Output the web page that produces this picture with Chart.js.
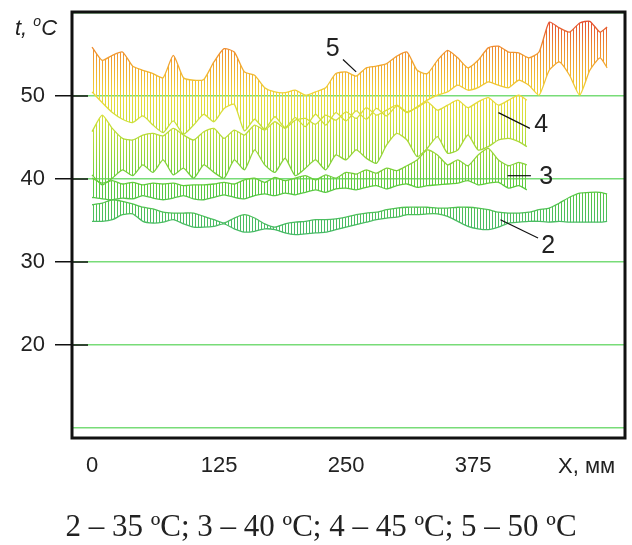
<!DOCTYPE html>
<html>
<head>
<meta charset="utf-8">
<script src="https://cdn.jsdelivr.net/npm/chart.js@4.4.0/dist/chart.umd.min.js"></script>
<style>
  body { margin: 0; background: #fff; }
  #wrap { position: relative; width: 632px; height: 545px; }
  .txt { position: absolute; color: #222; font-family: 'Liberation Sans', Arial, sans-serif; white-space: nowrap; }
</style>
</head>
<body>
<div id="wrap">
  <canvas id="chart" width="632" height="545"></canvas>
  <div class="txt" style="left:15px;top:13px;font-size:22px;font-style:italic">t, <sup style="font-size:14px;vertical-align:9px">o</sup>C</div>
  <div class="txt" style="left:558px;top:453px;font-size:22px">X, мм</div>
  <div class="txt" style="left:0;width:642px;top:508px;text-align:center;font-family:'Liberation Serif',serif;font-size:31px">2 – 35 ºC; 3 – 40 ºC; 4 – 45 ºC; 5 – 50 ºC</div>
</div>
<script>
// Положение по длине, мм
const X_LONG = [0, 10, 20, 30, 40, 50, 60, 70, 80, 90, 100, 110, 120, 130, 140, 150, 160, 170, 180, 190,
  200, 210, 220, 230, 240, 250, 260, 270, 280, 290, 300, 310, 320, 330, 340, 350, 360, 370, 380, 390,
  400, 410, 420, 430, 440, 450, 460, 470, 480, 490, 500, 507];
const X_SHORT = [0, 10, 20, 30, 40, 50, 60, 70, 80, 90, 100, 110, 120, 130, 140, 150, 160, 170, 180, 190,
  200, 210, 220, 230, 240, 250, 260, 270, 280, 290, 300, 310, 320, 330, 340, 350, 360, 370, 380, 390,
  400, 410, 420, 428];

// 2 - 35 °C
const S2_UPPER = [36.9, 37.1, 37.5, 37.3, 37.0, 36.6, 36.4, 36.0, 35.9, 35.9, 35.9, 35.5, 35.1, 34.7, 35.3, 35.7,
  35.3, 34.6, 34.2, 34.6, 34.8, 34.9, 35.1, 35.1, 35.2, 35.4, 35.7, 35.9, 36.0, 36.3, 36.5, 36.6, 36.6, 36.6,
  36.5, 36.5, 36.6, 36.6, 36.5, 36.3, 36.0, 35.9, 35.9, 36.0, 36.3, 36.5, 37.1, 37.8, 38.3, 38.4, 38.4, 38.2];
const S2_LOWER = [34.9, 34.9, 35.1, 35.7, 35.8, 34.9, 34.7, 34.8, 35.1, 34.6, 34.2, 34.2, 34.3, 34.6, 34.0, 33.6,
  33.7, 34.0, 33.9, 33.5, 33.3, 33.4, 33.5, 33.6, 33.9, 34.2, 34.5, 34.8, 35.1, 35.3, 35.4, 35.7, 35.7, 35.8,
  35.8, 35.5, 34.9, 34.3, 34.0, 33.9, 34.2, 34.7, 34.8, 34.9, 34.9, 34.8, 34.9, 34.8, 34.8, 34.8, 34.8, 34.9];

// 3 - 40 °C
const S3_UPPER = [40.1, 39.5, 39.8, 39.4, 39.6, 39.3, 39.5, 39.4, 39.5, 39.2, 39.3, 39.3, 39.4, 39.6, 39.4, 39.9,
  40.1, 39.6, 40.2, 39.8, 40.1, 40.4, 39.9, 40.5, 40.1, 40.8, 40.6, 41.1, 40.7, 41.3, 41.0, 41.6, 42.3, 43.5,
  42.9, 41.7, 42.3, 41.6, 42.9, 43.7, 42.3, 41.6, 42.0, 41.7];
const S3_LOWER = [37.8, 37.6, 37.5, 37.7, 37.6, 38.0, 37.7, 37.5, 37.7, 38.0, 37.6, 37.5, 37.8, 38.1, 37.8, 37.6,
  38.0, 38.2, 38.0, 38.3, 38.1, 38.4, 38.7, 38.4, 38.8, 38.9, 38.7, 39.0, 39.2, 38.8, 39.2, 39.4, 39.0, 39.2,
  39.3, 39.4, 39.5, 39.8, 39.3, 39.5, 39.6, 38.9, 39.2, 38.7];

// 4 - 45 °C
const S4_UPPER = [45.7, 47.7, 46.1, 44.9, 44.7, 45.3, 45.5, 45.2, 46.1, 45.3, 44.7, 45.7, 46.1, 44.9, 45.9, 45.3,
  46.5, 45.9, 46.9, 46.1, 47.1, 47.3, 46.6, 47.7, 47.1, 48.1, 47.3, 48.6, 47.7, 48.3, 48.9, 48.1, 48.6, 49.3,
  48.3, 48.9, 49.5, 48.6, 49.3, 49.8, 48.9, 49.5, 50.1, 49.5];
const S4_LOWER = [40.5, 39.3, 40.1, 41.1, 40.4, 41.7, 40.8, 42.3, 40.5, 41.3, 40.1, 41.7, 40.8, 40.1, 42.3, 41.1,
  43.5, 41.7, 40.8, 42.5, 40.4, 41.3, 42.3, 41.1, 42.9, 42.3, 43.5, 42.5, 41.9, 44.1, 45.5, 44.7, 42.7, 43.7,
  45.1, 43.1, 43.5, 45.3, 43.5, 43.9, 44.7, 44.9, 44.5, 43.9];

// 5 - 50 °C
const S5_UPPER = [55.9, 54.3, 54.9, 55.3, 53.6, 53.1, 52.7, 52.2, 54.9, 52.2, 51.9, 52.0, 54.1, 55.7, 55.3, 52.9,
  52.5, 51.0, 50.5, 50.4, 50.7, 50.1, 50.5, 51.0, 52.7, 52.9, 52.4, 53.4, 53.6, 53.9, 54.8, 55.3, 53.1, 52.7,
  54.3, 55.5, 54.6, 53.4, 54.3, 55.8, 56.0, 55.3, 55.2, 54.6, 55.3, 58.9, 58.2, 57.7, 58.8, 59.0, 57.7, 58.3];
const S5_LOWER = [50.5, 49.2, 48.0, 47.2, 46.8, 47.6, 46.5, 45.6, 47.0, 45.4, 46.5, 47.8, 46.9, 48.5, 49.0, 45.8,
  47.2, 46.0, 47.5, 46.2, 47.4, 46.3, 47.8, 46.5, 48.0, 47.0, 48.2, 47.2, 48.5, 47.6, 48.8, 48.0, 48.7, 49.5,
  50.1, 50.5, 51.3, 50.7, 51.0, 51.7, 51.3, 51.0, 51.9, 51.3, 50.1, 53.1, 54.1, 52.5, 50.1, 53.1, 54.6, 53.4];

const Y_TICK_LABELS = [20, 30, 40, 50];
const X_TICK_LABELS = [0, 125, 250, 375];

// Цвет по температуре (значение -> цвет)
const COLOR_STOPS = [
  [30, '61,181,111'], [35, '75,189,98'], [39, '91,203,62'], [43, '152,214,58'], [47, '207,224,58'],
  [50, '238,216,58'], [53, '242,178,50'], [56, '239,138,48'], [59.5, '227,70,50']
];

// Подписи кривых (в координатах данных)
const CALLOUTS = [
  { text: '5', at: [237, 55.6], from: [247, 54.4], to: [260, 52.9] },
  { text: '4', at: [442, 46.5], from: [431, 46.1], to: [400, 48.0] },
  { text: '3', at: [447, 40.2], from: [432, 40.4], to: [409, 40.4] },
  { text: '2', at: [449, 31.9], from: [439, 32.9], to: [402, 35.1] }
];

const FONT = "'Liberation Sans', Arial, sans-serif";

function points(xs, ys) {
  return xs.map((x, i) => ({ x: x, y: ys[i] }));
}

function tempGradient(ctx, yScale, alpha) {
  const v0 = COLOR_STOPS[0][0];
  const v1 = COLOR_STOPS[COLOR_STOPS.length - 1][0];
  const g = ctx.createLinearGradient(0, yScale.getPixelForValue(v0), 0, yScale.getPixelForValue(v1));
  COLOR_STOPS.forEach(s => g.addColorStop((s[0] - v0) / (v1 - v0), 'rgba(' + s[1] + ',' + alpha + ')'));
  return g;
}

let hatchCache = null;
function hatchFill(context) {
  const chart = context.chart;
  if (!chart.chartArea) return 'rgba(0,0,0,0)';
  const key = chart.height + ':' + chart.chartArea.top + ':' + chart.chartArea.bottom;
  if (hatchCache && hatchCache.key === key) return hatchCache.pattern;
  const c = document.createElement('canvas');
  c.width = 3;
  c.height = chart.height;
  const g = c.getContext('2d');
  g.fillStyle = tempGradient(g, chart.scales.y, 1);
  g.fillRect(0, 0, 1, chart.height);
  hatchCache = { key: key, pattern: chart.ctx.createPattern(c, 'repeat') };
  return hatchCache.pattern;
}

function edgeColor(context) {
  const chart = context.chart;
  if (!chart.chartArea) return '#5c5';
  return tempGradient(chart.ctx, chart.scales.y, 1);
}

function band(xs, lower, upper) {
  const common = { borderColor: edgeColor, borderWidth: 1.3, pointRadius: 0, tension: 0.2 };
  return [
    Object.assign({ data: points(xs, lower), fill: false }, common),
    Object.assign({ data: points(xs, upper), fill: '-1', backgroundColor: hatchFill }, common)
  ];
}

function noPad(s) {
  s.paddingTop = 0;
  s.paddingBottom = 0;
  s.paddingLeft = 0;
  s.paddingRight = 0;
}

const frame = {
  id: 'frame',
  afterDraw(chart) {
    const { ctx, chartArea: a, scales } = chart;
    ctx.save();
    // внутренние части рисок
    ctx.strokeStyle = '#111';
    ctx.lineWidth = 1.5;
    Y_TICK_LABELS.forEach(v => {
      const y = scales.y.getPixelForValue(v);
      ctx.beginPath();
      ctx.moveTo(a.left, y);
      ctx.lineTo(a.left + 16, y);
      ctx.stroke();
    });
    ctx.lineWidth = 3;
    ctx.strokeRect(a.left, a.top, a.right - a.left, a.bottom - a.top);
    // выноски
    ctx.lineWidth = 1.2;
    ctx.fillStyle = '#222';
    ctx.font = '25px ' + FONT;
    ctx.textAlign = 'center';
    ctx.textBaseline = 'middle';
    CALLOUTS.forEach(c => {
      ctx.beginPath();
      ctx.moveTo(scales.x.getPixelForValue(c.from[0]), scales.y.getPixelForValue(c.from[1]));
      ctx.lineTo(scales.x.getPixelForValue(c.to[0]), scales.y.getPixelForValue(c.to[1]));
      ctx.stroke();
      ctx.fillText(c.text, scales.x.getPixelForValue(c.at[0]), scales.y.getPixelForValue(c.at[1]));
    });
    ctx.restore();
  }
};

new Chart(document.getElementById('chart'), {
  type: 'line',
  data: {
    datasets: [].concat(
      band(X_LONG, S2_LOWER, S2_UPPER),
      band(X_SHORT, S3_LOWER, S3_UPPER),
      band(X_SHORT, S4_LOWER, S4_UPPER),
      band(X_LONG, S5_LOWER, S5_UPPER)
    )
  },
  options: {
    responsive: false,
    animation: false,
    layout: { padding: { top: 12, right: 7, left: 0, bottom: 0 } },
    plugins: { legend: { display: false }, tooltip: { enabled: false } },
    scales: {
      x: {
        type: 'linear',
        min: -19.7,
        max: 524.6,
        afterFit: s => { s.height = 107; noPad(s); },
        border: { display: false },
        grid: { display: false, drawTicks: false },
        ticks: {
          stepSize: 125,
          includeBounds: false,
          autoSkip: false,
          maxRotation: 0,
          padding: 15,
          color: '#222',
          font: { size: 22, family: FONT },
          callback: v => X_TICK_LABELS.includes(v) ? String(v) : ''
        }
      },
      y: {
        type: 'linear',
        min: 8.8,
        max: 60.12,
        afterFit: s => { s.width = 72; noPad(s); },
        border: { display: false },
        grid: {
          color: '#78dc78',
          lineWidth: 1.5,
          tickLength: 17,
          tickColor: c => Y_TICK_LABELS.includes(c.tick.value) ? '#111' : 'rgba(0,0,0,0)'
        },
        ticks: {
          stepSize: 10,
          includeBounds: false,
          padding: 10,
          color: '#222',
          font: { size: 22, family: FONT },
          callback: v => Y_TICK_LABELS.includes(v) ? String(v) : ''
        }
      }
    }
  },
  plugins: [frame]
});
</script>
</body>
</html>
